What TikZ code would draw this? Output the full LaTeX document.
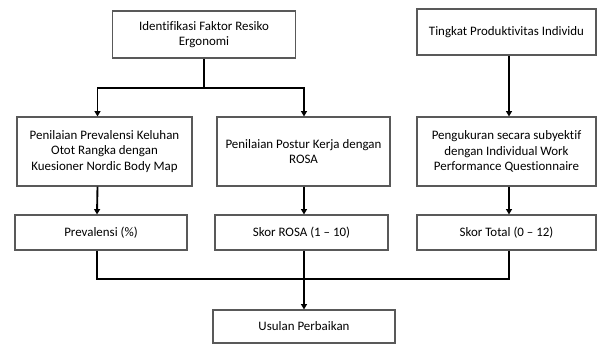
\documentclass[tikz,border=0pt]{standalone}
\usepackage{fontspec}
\setmainfont[Ligatures=NoCommon]{Carlito}
\usetikzlibrary{arrows.meta}

\tikzset{
  box/.style={draw=black!65, line width=0.9pt, align=center, inner sep=0pt, font=\fontsize{9.7}{11.8}\selectfont},
  link/.style={line width=1.4pt},
  arr/.style={link, -{Triangle[width=4.5pt, length=4pt]}}
}

\begin{document}
\begin{tikzpicture}[x=0.75pt, y=-0.75pt]

\useasboundingbox (0, 0) rectangle (597, 344);

\node[box, minimum width=137.25pt, minimum height=35.25pt] (ident) at (204, 34.5) {Identifikasi Faktor Resiko\\Ergonomi};
\node[box, minimum width=134.25pt, minimum height=34.5pt] (tingkat) at (506.5, 32) {Tingkat Produktivitas Individu};

\node[box, minimum width=131.25pt, minimum height=51.75pt] (nbm) at (104.5, 151.5) {Penilaian Prevalensi Keluhan\\Otot Rangka dengan\\Kuesioner Nordic Body Map};
\node[box, minimum width=129.75pt, minimum height=51.75pt] (postur) at (303.5, 151.5) {Penilaian Postur Kerja dengan\\ROSA};
\node[box, minimum width=134.25pt, minimum height=51.75pt] (iwpq) at (506.5, 151.5) {Pengukuran secara subyektif\\dengan Individual Work\\Performance Questionnaire};

\node[box, minimum width=129pt, minimum height=26.25pt] (prev) at (101, 232.5) {Prevalensi (\%)};
\node[box, minimum width=129.75pt, minimum height=26.25pt] (rosa) at (301.5, 232.5) {Skor ROSA (1 -- 10)};
\node[box, minimum width=134.25pt, minimum height=26.25pt] (total) at (506.5, 232.5) {Skor Total (0 -- 12)};

\node[box, minimum width=136.5pt, minimum height=24.75pt] (usulan) at (304, 326.5) {Usulan Perbaikan};

\coordinate (split) at (204, 88);
\coordinate (merge) at (304, 279);

\draw[link] (ident.south) -- (split);
\draw[arr] (split) -| ([xshift=-5.25pt]nbm.north);
\draw[arr] (split) -| (postur.north -| merge);
\draw[arr] (tingkat.south -| 509, 0) -- (iwpq.north -| 509, 0);

\draw[arr] ([xshift=-5.25pt]nbm.south) -- ([xshift=-3pt]prev.north);
\draw[arr] (postur.south -| merge) -- (rosa.north -| merge);
\draw[arr] (iwpq.south -| 509, 0) -- (total.north -| 509, 0);

\draw[link] ([xshift=-3pt]prev.south) |- (merge);
\draw[link] (total.south -| 509, 0) |- (merge);
\draw[arr] (rosa.south -| merge) -- (usulan.north);

\end{tikzpicture}
\end{document}
